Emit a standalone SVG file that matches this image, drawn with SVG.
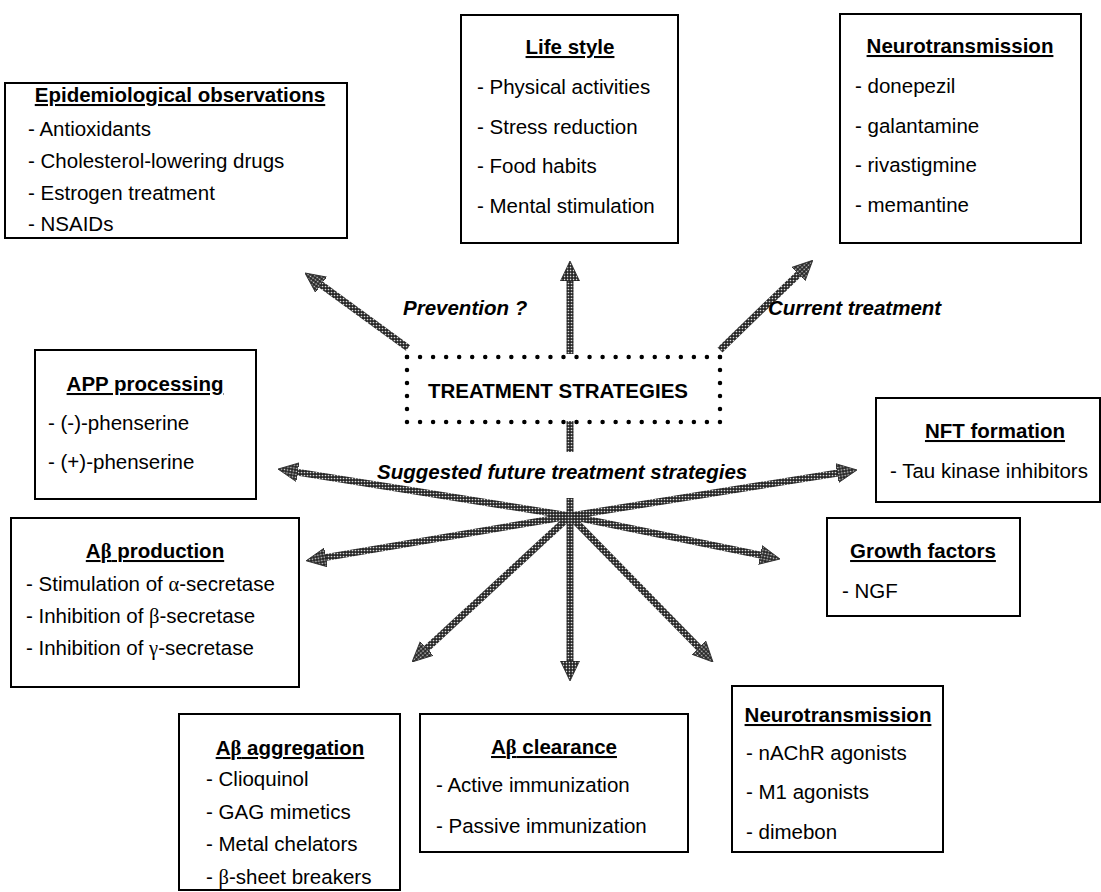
<svg xmlns="http://www.w3.org/2000/svg" width="1101" height="892" viewBox="0 0 1101 892">
<defs>
<style>
text{font-family:"Liberation Sans",Arial,sans-serif;font-size:20.5px;fill:#000}
.h{font-weight:bold;text-decoration:underline;text-anchor:middle}
.lb{font-weight:bold;font-style:italic}
.g{font-family:"Liberation Serif","DejaVu Serif",serif}
.box{fill:#fff;stroke:#000;stroke-width:2}
.sh{stroke:url(#tex);stroke-width:7;fill:none}
.dot{stroke:#000;stroke-width:4.5;stroke-linecap:round;fill:none}
</style>
<pattern id="tex" width="3" height="3" patternUnits="userSpaceOnUse">
<rect width="3" height="3" fill="#262626"/>
<circle cx="1.5" cy="1.5" r="0.85" fill="#dcdcdc"/>
</pattern>
<marker id="ah" viewBox="0 0 20 20" refX="4" refY="10" markerWidth="20" markerHeight="20" markerUnits="userSpaceOnUse" orient="auto">
<path d="M0,0.5 L20,10 L0,19.5 Z" fill="url(#tex)" stroke="#222" stroke-width="0.8"/>
</marker>
</defs>
<rect width="1101" height="892" fill="#fff"/>

<g id="connectors">
<line class="sh" x1="570" y1="354" x2="570" y2="277" marker-end="url(#ah)"/>
<line class="sh" x1="408" y1="348" x2="317.9" y2="282.4" marker-end="url(#ah)"/>
<line class="sh" x1="720" y1="350" x2="801.3" y2="271.4" marker-end="url(#ah)"/>
<line class="sh" x1="570" y1="421" x2="570" y2="452"/>
<line class="sh" x1="570" y1="498" x2="570" y2="665" marker-end="url(#ah)"/>
<line class="sh" x1="570" y1="516" x2="701.8" y2="650.6" marker-end="url(#ah)"/>
<line class="sh" x1="570" y1="516" x2="764.3" y2="555.8" marker-end="url(#ah)"/>
<line class="sh" x1="570" y1="516" x2="841.2" y2="472.5" marker-end="url(#ah)"/>
<line class="sh" x1="570" y1="516" x2="293.8" y2="471.6" marker-end="url(#ah)"/>
<line class="sh" x1="570" y1="516" x2="321.9" y2="558.1" marker-end="url(#ah)"/>
<line class="sh" x1="570" y1="516" x2="423.8" y2="651.1" marker-end="url(#ah)"/>
</g>

<g id="center">
<line class="dot" x1="407" y1="357" x2="720" y2="357" stroke-dasharray="0 13.04"/>
<line class="dot" x1="407" y1="422" x2="720" y2="422" stroke-dasharray="0 13.04"/>
<line class="dot" x1="407" y1="357" x2="407" y2="422" stroke-dasharray="0 13"/>
<line class="dot" x1="720" y1="357" x2="720" y2="422" stroke-dasharray="0 13"/>
<text x="558" y="398" font-weight="bold" text-anchor="middle">TREATMENT STRATEGIES</text>
</g>

<g id="labels">
<text class="lb" x="403" y="315">Prevention ?</text>
<text class="lb" x="768" y="315">Current treatment</text>
<text class="lb" x="377" y="479">Suggested future treatment strategies</text>
</g>

<g id="epidemiological">
<rect class="box" x="5" y="83" width="342" height="155"/>
<text class="h" x="180" y="102">Epidemiological observations</text>
<text x="28" y="136">- Antioxidants</text>
<text x="28" y="168">- Cholesterol-lowering drugs</text>
<text x="28" y="200">- Estrogen treatment</text>
<text x="28" y="231">- NSAIDs</text>
</g>

<g id="lifestyle">
<rect class="box" x="461" y="15" width="217" height="228"/>
<text class="h" x="570" y="54">Life style</text>
<text x="477" y="94">- Physical activities</text>
<text x="477" y="134">- Stress reduction</text>
<text x="477" y="173">- Food habits</text>
<text x="477" y="213">- Mental stimulation</text>
</g>

<g id="neuro-current">
<rect class="box" x="840" y="14" width="241" height="229"/>
<text class="h" x="960" y="53">Neurotransmission</text>
<text x="855" y="93">- donepezil</text>
<text x="855" y="133">- galantamine</text>
<text x="855" y="172">- rivastigmine</text>
<text x="855" y="212">- memantine</text>
</g>

<g id="app">
<rect class="box" x="35" y="350" width="221" height="149"/>
<text class="h" x="145" y="391">APP processing</text>
<text x="48" y="430">- (-)-phenserine</text>
<text x="48" y="469">- (+)-phenserine</text>
</g>

<g id="nft">
<rect class="box" x="876" y="398" width="224" height="104"/>
<text class="h" x="995" y="438">NFT formation</text>
<text x="890" y="478">- Tau kinase inhibitors</text>
</g>

<g id="growth">
<rect class="box" x="827" y="518" width="193" height="98"/>
<text class="h" x="923" y="558">Growth factors</text>
<text x="842" y="598">- NGF</text>
</g>

<g id="abeta-production">
<rect class="box" x="11" y="518" width="288" height="169"/>
<text class="h" x="155" y="558">A<tspan class="g">β</tspan> production</text>
<text x="26" y="591">- Stimulation of <tspan class="g">α</tspan>-secretase</text>
<text x="26" y="623">- Inhibition of <tspan class="g">β</tspan>-secretase</text>
<text x="26" y="655">- Inhibition of <tspan class="g">γ</tspan>-secretase</text>
</g>

<g id="abeta-aggregation">
<rect class="box" x="179" y="714" width="221" height="176"/>
<text class="h" x="290" y="755">A<tspan class="g">β</tspan> aggregation</text>
<text x="206" y="786">- Clioquinol</text>
<text x="206" y="819">- GAG mimetics</text>
<text x="206" y="851">- Metal chelators</text>
<text x="206" y="884">- <tspan class="g">β</tspan>-sheet breakers</text>
</g>

<g id="abeta-clearance">
<rect class="box" x="420" y="714" width="268" height="138"/>
<text class="h" x="554" y="754">A<tspan class="g">β</tspan> clearance</text>
<text x="436" y="792">- Active immunization</text>
<text x="436" y="833">- Passive immunization</text>
</g>

<g id="neuro-future">
<rect class="box" x="732" y="686" width="211" height="166"/>
<text class="h" x="838" y="722">Neurotransmission</text>
<text x="746" y="760">- nAChR agonists</text>
<text x="746" y="799">- M1 agonists</text>
<text x="746" y="839">- dimebon</text>
</g>
</svg>
